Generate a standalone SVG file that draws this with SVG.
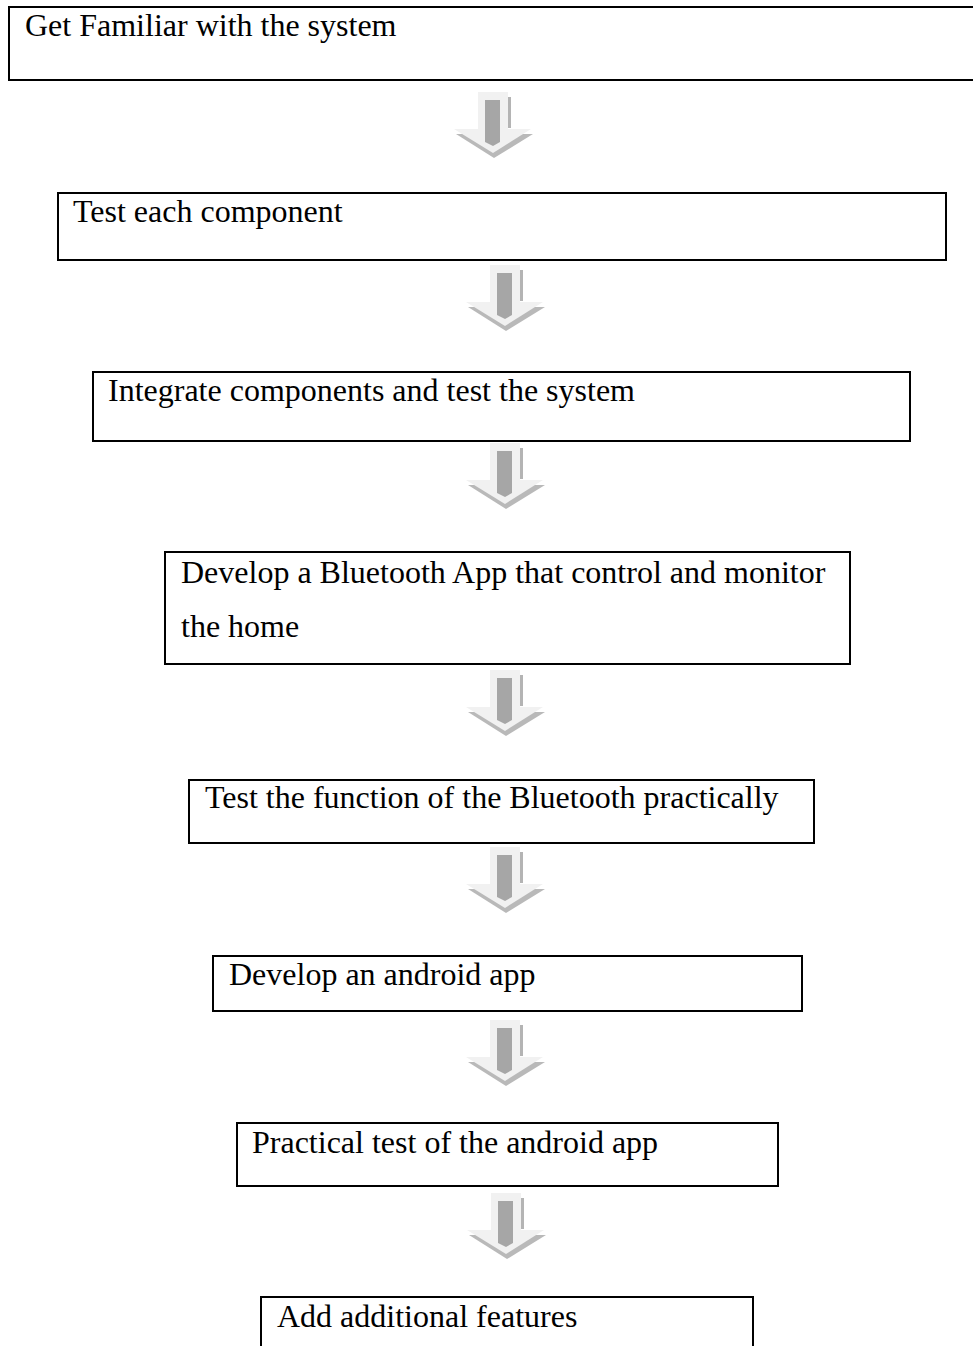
<svg xmlns="http://www.w3.org/2000/svg" width="973" height="1346" viewBox="0 0 973 1346">
  <defs>
    <style>
      .box { fill: #ffffff; stroke: #000000; stroke-width: 2; }
      .label { font-family: "Liberation Serif", "Times New Roman", serif; font-size: 32px; fill: #000000; }
      .arrow-body { fill: #f1f1f1; }
      .arrow-shadow { fill: #b9b9b9; }
      .arrow-core { fill: #a6a6a6; }
      .arrow-edge { fill: #b4b4b4; }
    </style>
    <!-- block arrow pointing down, origin at top-centre of the shaft -->
    <g id="down-arrow">
      <polygon class="arrow-shadow" points="-37,42 40,42 1,66" />
      <rect class="arrow-body" x="-15" y="0" width="30" height="38" />
      <polygon class="arrow-body" points="-39,37 38,37 0,61" />
      <polygon class="arrow-core" points="-8,8 7,8 7,50 0,54 -8,50" />
      <rect class="arrow-edge" x="15" y="5" width="3" height="31" />
    </g>
  </defs>

  <rect width="973" height="1346" fill="#ffffff" />

  <g id="connectors">
    <use href="#down-arrow" x="493" y="92" />
    <use href="#down-arrow" x="505" y="265" />
    <use href="#down-arrow" x="505" y="443" />
    <use href="#down-arrow" x="505" y="670" />
    <use href="#down-arrow" x="505" y="847" />
    <use href="#down-arrow" x="505" y="1020" />
    <use href="#down-arrow" x="506" y="1193" />
  </g>

  <g id="step-familiar">
    <rect class="box" x="9" y="7" width="970" height="73" />
    <text class="label" x="25" y="36">Get Familiar with the system</text>
  </g>

  <g id="step-test-components">
    <rect class="box" x="58" y="193" width="888" height="67" />
    <text class="label" x="73" y="222">Test each component</text>
  </g>

  <g id="step-integrate">
    <rect class="box" x="93" y="372" width="817" height="69" />
    <text class="label" x="108" y="401">Integrate components and test the system</text>
  </g>

  <g id="step-bluetooth-app">
    <rect class="box" x="165" y="552" width="685" height="112" />
    <text class="label" x="181" y="583">Develop a Bluetooth App that control and monitor</text>
    <text class="label" x="181" y="637">the home</text>
  </g>

  <g id="step-test-bluetooth">
    <rect class="box" x="189" y="780" width="625" height="63" />
    <text class="label" x="205" y="808">Test the function of the Bluetooth practically</text>
  </g>

  <g id="step-android-app">
    <rect class="box" x="213" y="956" width="589" height="55" />
    <text class="label" x="229" y="985">Develop an android app</text>
  </g>

  <g id="step-test-android">
    <rect class="box" x="237" y="1123" width="541" height="63" />
    <text class="label" x="252" y="1153">Practical test of the android app</text>
  </g>

  <g id="step-features">
    <rect class="box" x="261" y="1297" width="492" height="70" />
    <text class="label" x="277" y="1327">Add additional features</text>
  </g>
</svg>
